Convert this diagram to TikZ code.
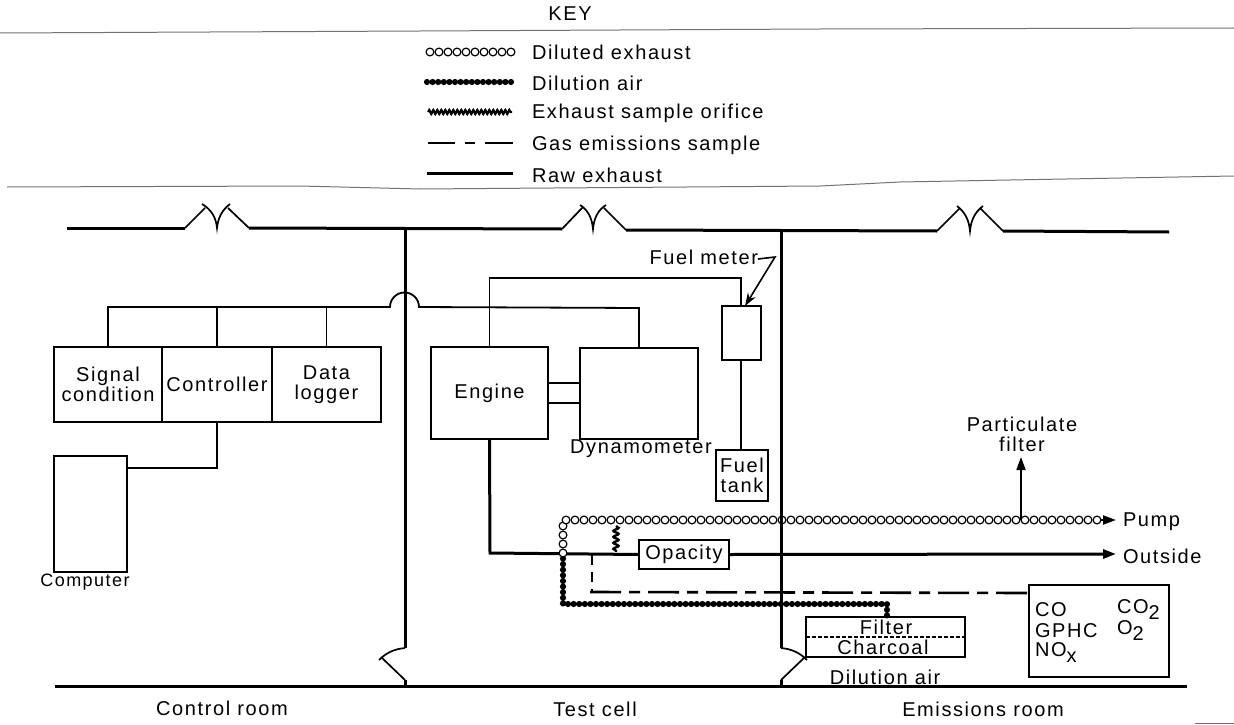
\documentclass[tikz,border=0pt]{standalone}
\usepackage{fontspec}
\setmainfont[LetterSpace=8]{Liberation Sans}
\usetikzlibrary{decorations.markings,decorations.pathmorphing,arrows.meta}
\newcommand{\lowsub}[1]{\raisebox{-6pt}{#1}}
\tikzset{
  every node/.style={font=\fontsize{20}{20}\selectfont,inner sep=0pt,outer sep=0pt},
  lbl/.style={align=center},
  lft/.style={anchor=west},
  boxn/.style={draw=black,line width=2pt,align=center,rectangle},
  thin line/.style={draw=black,line width=1.8pt},
  wall/.style={draw=black,line width=3pt},
  winline/.style={draw=black,line width=1.7pt},
  rawex/.style={draw=black,line width=3pt},
  rule/.style={draw=black!55,line width=1pt},
  gasline/.style={draw=black,line width=2.6pt,dash pattern=on 31pt off 8pt on 11pt off 8pt},
  gasriser/.style={draw=black,line width=2.6pt,dash pattern=on 10pt off 7pt},
  airline/.style={draw=black,line width=2.4pt,postaction={draw,line width=6.2pt,line cap=round,dash pattern=on 0pt off 5.6pt}},
  dilutedline/.style={postaction={decorate,decoration={markings,mark=between positions 0 and 1 step 9pt with {\draw[black,fill=white,line width=1.2pt] (0,0) circle (3.9pt);}}}},
  orificekey/.style={draw=black,line width=2pt,decorate,decoration={snake,segment length=4pt,amplitude=2.2pt}},
  orifice/.style={draw=black,line width=2.4pt,decorate,decoration={snake,segment length=6pt,amplitude=2.6pt}},
  head/.style={-{Triangle[length=13pt,width=9pt]}},
}
\begin{document}
\begin{tikzpicture}[x=1pt,y=-1pt]
\useasboundingbox (0,0) rectangle (1234,725);
% key
\node[lbl] (keyt) at (570,14) {KEY};
\draw[rule] (0,33) -- (420,31) -- (820,29) -- (1234,28);
\draw[rule] (7,187) -- (300,186) -- (420,189) -- (820,186) -- (900,182) -- (1010,180) -- (1234,176);
\draw[rule] (1195,723) -- (1234,723);
\node[lft] (k1) at (532,52) {Diluted exhaust};
\node[lft] (k2) at (532,83) {Dilution air};
\node[lft] (k3) at (532,113) {Exhaust sample orifice};
\node[lft] (k4) at (532,145) {Gas emissions sample};
\node[lft] (k5) at (532,175) {Raw exhaust};
\coordinate (k1a) at (430,52);
\coordinate (k1b) at (512,52);
\coordinate (k2a) at (427,82);
\coordinate (k2b) at (513,82);
\coordinate (k3a) at (428,112);
\coordinate (k3b) at (512,112);
\coordinate (k4a) at (428,143);
\coordinate (k4b) at (513,143);
\coordinate (k5a) at (427,173);
\coordinate (k5b) at (513,173);
\path[dilutedline] (k1a) -- (k1b);
\draw[airline] (k2a) -- (k2b);
\draw[orificekey] (k3a) -- (k3b);
\draw[draw=black,line width=2.6pt,dash pattern=on 27pt off 10pt on 10pt off 10pt on 28pt] (k4a) -- (k4b);
\draw[rawex] (k5a) -- (k5b);

% boxes
\node[boxn,minimum width=108pt,minimum height=75pt] (sig) at (108,384.5) {Signal\\condition};
\node[boxn,minimum width=110pt,minimum height=75pt] (ctl) at (217,384.5) {Controller};
\node[boxn,minimum width=109pt,minimum height=75pt] (dat) at (326.5,384.5) {Data\\logger};
\node[boxn,minimum width=73pt,minimum height=116pt] (cmp) at (90.5,514) {};
\node[lbl,font=\fontsize{18}{20}\selectfont] (cmpt) at (85,582) {Computer};
\node[boxn,minimum width=117pt,minimum height=92pt] (eng) at (489.5,393) {Engine};
\node[boxn,minimum width=118pt,minimum height=91pt] (dyn) at (639,393.5) {};
\node[lbl] (dynt) at (641,449) {Dynamometer};
\node[boxn,minimum width=39pt,minimum height=54pt] (fm) at (741.5,333) {};
\node[lbl,anchor=east] (fmt) at (758,257) {Fuel meter};
\node[boxn,minimum width=52pt,minimum height=51pt] (ft) at (742,475.5) {Fuel\\tank};
\node[boxn,minimum width=90pt,minimum height=29pt] (op) at (684,554.5) {Opacity};
\node[boxn,minimum width=140pt,minimum height=92pt] (an) at (1099,631) {};
\node[lft] (an1) at (1035,610) {CO};
\node[lft] (an2) at (1035,631) {GPHC};
\node[lft] (an3) at (1035,653) {NO\lowsub{x}};
\node[lft] (an4) at (1117,610) {CO\lowsub{2}};
\node[lft] (an5) at (1117,631) {O\lowsub{2}};
\node[boxn,minimum width=159pt,minimum height=40pt] (fb) at (885.5,637) {};
\draw[black,line width=1.2pt,dash pattern=on 4pt off 2pt] (fb.west) -- (fb.east);
\node[lbl] (fb1) at (886,627) {Filter};
\node[lbl] (fb2) at (883,647) {Charcoal};
\node[lbl] (da) at (885,677) {Dilution air};
\node[lbl] (pf) at (1022,434) {Particulate\\filter};
\node[lft] (pump) at (1123,522) {Pump};
\node[lft] (out) at (1123,556) {Outside};
\node[lbl] (r1) at (222,708) {Control room};
\node[lbl] (r2) at (595,709) {Test cell};
\node[lbl] (r3) at (983,709) {Emissions room};

% signal wiring
\coordinate (busL) at (108,307);
\coordinate (cmpin) at (127,468);
\coordinate (fmtop) at (741,306);
\coordinate (fmbot) at (741,360);
\coordinate (fttop) at (741,450);
\draw[thin line] (sig.north) -- (busL) -- (390,307) arc[start angle=180,end angle=0,radius=14.5pt] -- (639,308) -- (dyn.north);
\draw[thin line] (ctl.north) -- (217,307);
\draw[thin line] (dat.north) -- (326.5,307);
\draw[thin line] (ctl.south) |- (cmpin);
\draw[thin line] (eng.north) |- (741,278) -- (fmtop);
\draw[thin line] (fmbot) -- (fttop);
\draw[thin line] (548,383) -- (580,383);
\draw[thin line] (548,403) -- (580,403);
\draw[line width=1.6pt,-{Stealth[length=13pt,width=9pt]}] (fmt.east) ++(0,2) -- (775,257) -- (745,306);

% pipes
\coordinate (bendraw) at (490,553);
\coordinate (dtop) at (563,520);
\coordinate (djoin) at (563,553);
\coordinate (gasbend) at (592,592);
\coordinate (gasend) at (1029,593);
\coordinate (airend) at (887,617);
\draw[rawex] (eng.south) -- (bendraw) -- (op.west);
\draw[rawex,head] (op.east) -- (1116,554);
\draw[thin line,head] (1021,520) -- (1021,457);
\draw[orifice] (616,526) -- (616,552);
\draw[gasriser] (592,555) -- (gasbend);
\draw[gasline] (590,592) -- (gasend);
\draw[airline] (djoin) -- (563,604) -- (887,604) -- (airend);
\draw[draw=black,line width=2pt,head] (1098,520) -- (1116,520);
\path[dilutedline] (djoin) -- (dtop) -- (1102,520);

% building
\coordinate (w1top) at (405,229);
\coordinate (w2top) at (781,230);
\draw[wall] (67,228) -- (185,228);
\draw[winline] (185,228) -- (205,208) (202,204) .. controls (212,210) and (216,218) .. (217,228) .. controls (218,218) and (222,210) .. (230,204) (228,208) -- (249,228);
\draw[wall] (249,228) -- (562,229);
\draw[winline] (562,229) -- (582,208) (580,205) .. controls (588,210) and (592,218) .. (593,229) .. controls (594,218) and (598,210) .. (606,205) (604,208) -- (626,230);
\draw[wall] (626,230) -- (937,231);
\draw[winline] (937,231) -- (959,209) (957,206) .. controls (965,212) and (969,220) .. (970,231) .. controls (971,220) and (975,212) .. (983,206) (981,209) -- (1003,231);
\draw[wall] (1003,231) -- (1169,232);
\draw[wall] (w1top) -- (405,648);
\draw[wall] (w2top) -- (781,648);
\draw[winline] (405,648) .. controls (394,649) and (386,653) .. (379,660) (381,657) -- (405,680);
\draw[winline] (781,648) .. controls (792,649) and (800,653) .. (807,660) (805,657) -- (781,680);
\draw[wall] (405,680) -- (405,686);
\draw[wall] (781,680) -- (781,686);
\draw[wall] (55,686) -- (1187,686);
\end{tikzpicture}
\end{document}
